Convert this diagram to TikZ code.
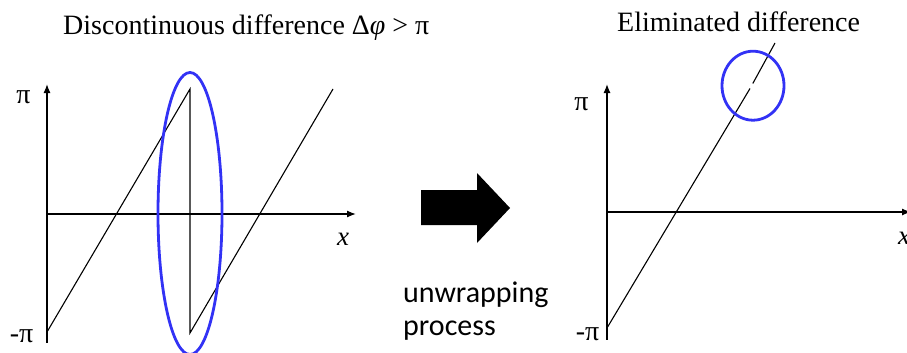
\documentclass[tikz,border=0pt]{standalone}
\usepackage{fontspec}
\setmainfont{Liberation Serif}
\newfontfamily\sansfnt{Carlito}
\usetikzlibrary{arrows.meta,shapes.geometric}
\definecolor{ringblue}{RGB}{50,50,245}
\tikzset{
  axis/.style={line width=1.3pt,-{Latex[length=9pt,width=7pt]}},
  curve/.style={line width=1.1pt},
  ring/.style={draw=ringblue,line width=2.8pt},
  ttl/.style={font=\fontsize{28}{30}\selectfont,inner sep=0pt,anchor=base west},
  lbl/.style={font=\fontsize{28}{30}\selectfont,inner sep=0pt,anchor=base},
  sanslbl/.style={font=\sansfnt\fontsize{30}{32}\selectfont,inner sep=0pt,anchor=base west}
}
\begin{document}
\begin{tikzpicture}[x=1pt,y=-1pt]
\useasboundingbox (0,0) rectangle (907,353);
% ---- left chart
\coordinate (lo) at (47,214);
\coordinate (lb) at (47,343);
\coordinate (lt) at (47,84);
\coordinate (lxe) at (356,214);
\draw[line width=1.3pt] (lo) -- (lb);
\draw[axis] (lo) -- (lt);
\draw[axis] (lo) -- (lxe);
\coordinate (a1) at (47,332);
\coordinate (a2) at (190,89);
\coordinate (a3) at (190,333);
\coordinate (a4) at (333,89);
\draw[curve] (a1) -- (a2) -- (a3) -- (a4);
\node[ring,ellipse,minimum width=64pt,minimum height=282pt,inner sep=0pt] (e1) at (190,213.5) {};
\node[lbl] (lpi) at (23.5,103) {π};
\node[lbl] (lmpi) at (21.5,342) {-π};
\node[lbl,font=\itshape\fontsize{27}{29}\selectfont] (lx) at (343,245) {x};
\node[ttl] (t1) at (63,35) {Discontinuous difference Δ{\itshape φ} > π};
% ---- big arrow
\fill[black] (421,190) -- (477,190) -- (477,173) -- (510,208) -- (477,243) -- (477,225) -- (421,225) -- cycle;
\node[sanslbl] (u1) at (403,302) {unwrapping};
\node[sanslbl] (u2) at (403,335) {process};
% ---- right chart
\coordinate (ro) at (607,212);
\coordinate (rb) at (607,340);
\coordinate (rt) at (607,84);
\coordinate (rxe) at (911,212);
\draw[line width=1.3pt] (ro) -- (rb);
\draw[axis] (ro) -- (rt);
\draw[axis] (ro) -- (rxe);
\coordinate (b1) at (607,328);
\coordinate (b2) at (750,88.5);
\coordinate (b3) at (752.8,83.5);
\coordinate (b4) at (775,43);
\draw[curve] (b1) -- (b2);
\draw[curve] (b3) -- (b4);
\node[ring,ellipse,minimum width=62pt,minimum height=69pt,inner sep=0pt] (e2) at (753,85.7) {};
\node[lbl] (rpi) at (581.5,110) {π};
\node[lbl] (rmpi) at (587.5,340) {-π};
\node[lbl,font=\itshape\fontsize{27}{29}\selectfont] (rx) at (904,244) {x};
\node[ttl] (t2) at (617,32) {Eliminated difference};
\end{tikzpicture}
\end{document}
